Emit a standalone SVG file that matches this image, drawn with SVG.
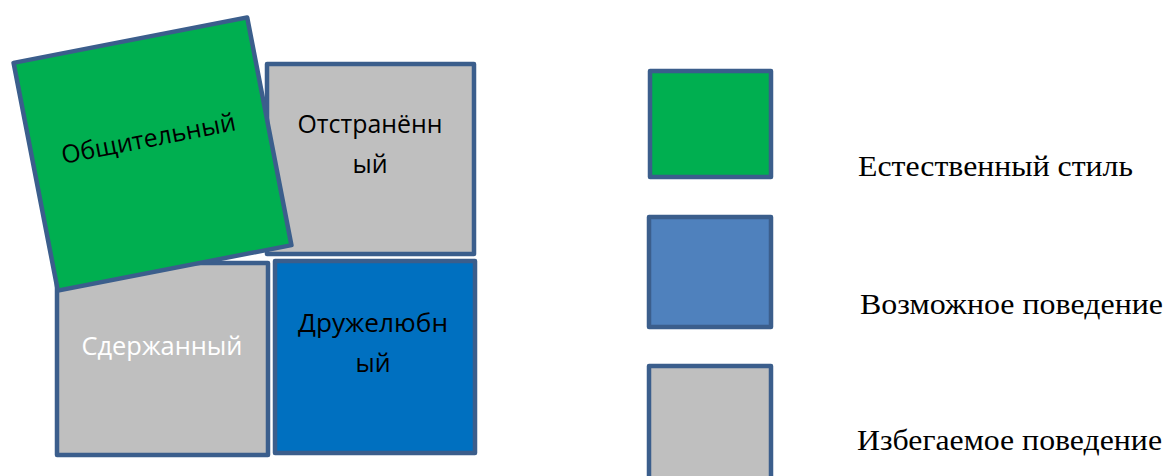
<svg xmlns="http://www.w3.org/2000/svg" width="1168" height="476" viewBox="0 0 1168 476">
<style>
.box{stroke:#3B5E8C;stroke-width:4.5;stroke-linejoin:round}
.green{fill:#00AF50}
.gray{fill:#BFBFBF}
.dblue{fill:#0070C0}
.lblue{fill:#4F81BD}
.t{font-family:"Open Sans","DejaVu Sans",sans-serif;font-size:25px;text-anchor:middle;fill:#000}
.lg{font-family:"Liberation Serif","Times New Roman",serif;font-size:29px;fill:#000}
</style>
<rect width="1168" height="476" fill="#fff"/>
<g id="otstranenny">
<rect class="box gray" x="267" y="64" width="207" height="190"/>
<text class="t" x="370" y="133" textLength="145" lengthAdjust="spacingAndGlyphs">Отстранённ</text>
<text class="t" x="370" y="173">ый</text>
</g>
<g id="sderzhanny">
<rect class="box gray" x="57" y="263" width="211" height="192"/>
<text class="t" x="162" y="355" style="fill:#fff" textLength="161" lengthAdjust="spacingAndGlyphs">Сдержанный</text>
</g>
<g id="druzhelyubny">
<rect class="box dblue" x="275" y="261" width="200" height="192"/>
<text class="t" x="373" y="332" textLength="150" lengthAdjust="spacingAndGlyphs">Дружелюбн</text>
<text class="t" x="373" y="372">ый</text>
</g>
<g id="obshchitelny">
<rect class="box green" x="33.5" y="38" width="238" height="232" transform="rotate(-11 152.5 154)"/>
<text class="t" x="150" y="147" transform="rotate(-11 150 147)" textLength="177" lengthAdjust="spacingAndGlyphs">Общительный</text>
</g>
<g id="legend-natural">
<rect class="box green" x="650" y="71" width="121" height="106"/>
<text class="lg" x="858" y="176" textLength="275" lengthAdjust="spacingAndGlyphs">Естественный стиль</text>
</g>
<g id="legend-possible">
<rect class="box lblue" x="649" y="217" width="122" height="110"/>
<text class="lg" x="860" y="314" textLength="303" lengthAdjust="spacingAndGlyphs">Возможное поведение</text>
</g>
<g id="legend-avoided">
<rect class="box gray" x="649" y="366" width="122" height="120"/>
<text class="lg" x="857" y="450" textLength="305" lengthAdjust="spacingAndGlyphs">Избегаемое поведение</text>
</g>
<g id="connectors"></g>
</svg>
